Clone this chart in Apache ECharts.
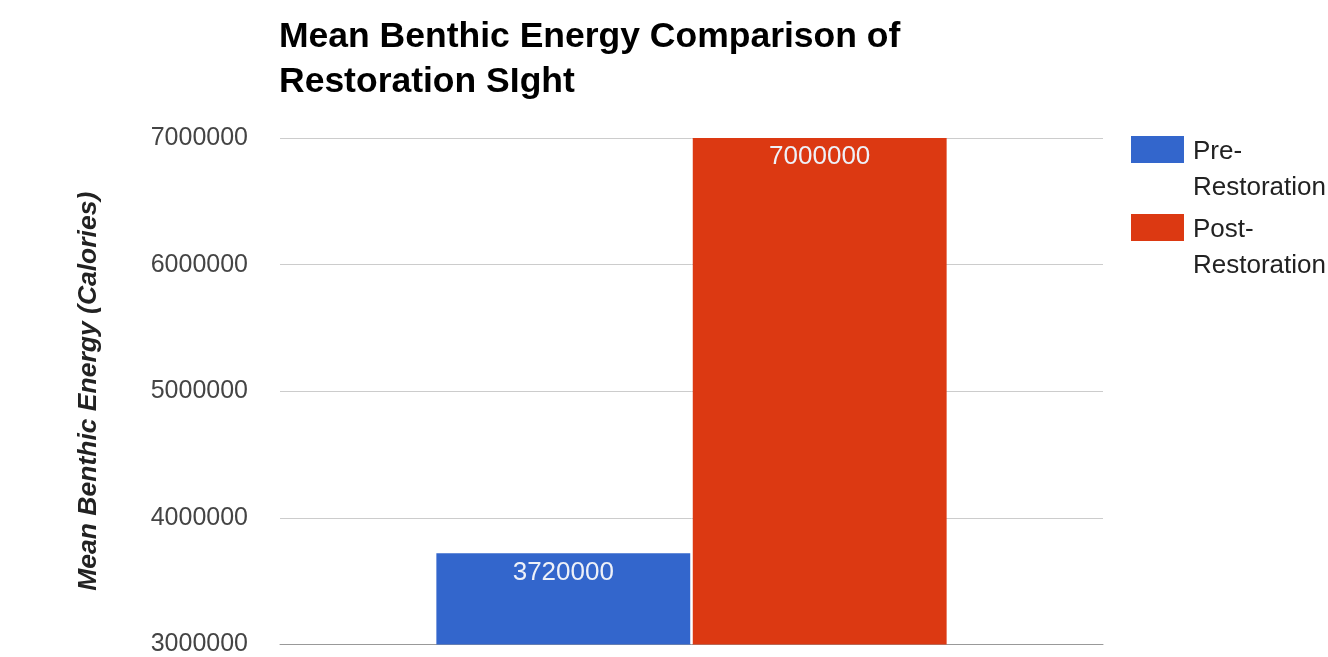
<!DOCTYPE html>
<html>
<head>
<meta charset="utf-8">
<script src="https://cdn.jsdelivr.net/npm/echarts@6/dist/echarts.min.js"></script>
<style>
  html, body { margin: 0; padding: 0; background: #fff; }
  #chart { width: 1328px; height: 657px; }
</style>
</head>
<body>
<div id="chart"></div>
<script>
// Mean benthic energy before and after restoration
const categories = [''];
const seriesNames = ['Pre-\nRestoration', 'Post-\nRestoration'];
const preRestoration = [3720000];
const postRestoration = [7000000];
const yTicks = { min: 3000000, max: 7000000, interval: 1000000 };
const colors = ['#3366cc', '#dc3912'];

const FONT = 'Liberation Sans, Arial, sans-serif';
const chart = echarts.init(document.getElementById('chart'), null, { renderer: 'canvas' });

const valueLabel = {
  show: true,
  position: 'insideTop',
  distance: 6,
  color: '#eef1f8',
  fontFamily: FONT,
  fontSize: 26,
  lineHeight: 26
};

// Legend swatch: a 53x27 block in the top-left of a larger item box
// (a tiny point marks the box corner), so it lines up with the first
// line of the two-line label and leaves a little room before the text.
const swatchIcon = 'path://M0,0L53,0L53,27L0,27Z M57,67L57.01,67L57,67.01Z';

chart.setOption({
  animation: false,
  backgroundColor: '#ffffff',
  title: {
    text: 'Mean Benthic Energy Comparison of\nRestoration SIght',
    left: 279,
    top: 15,
    padding: 0,
    textStyle: {
      fontFamily: FONT,
      fontWeight: 'bold',
      fontSize: 35.5,
      lineHeight: 45,
      color: '#000'
    }
  },
  legend: {
    orient: 'vertical',
    left: 1131,
    top: 133.5,
    padding: 0,
    itemWidth: 57,
    itemHeight: 67,
    itemGap: 6,
    icon: swatchIcon,
    textStyle: {
      fontFamily: FONT,
      fontSize: 26,
      lineHeight: 36,
      color: '#222'
    },
    data: seriesNames
  },
  grid: {
    left: 280,
    right: 225,
    top: 138,
    bottom: 10,
    containLabel: false
  },
  xAxis: {
    type: 'category',
    data: categories,
    axisLine: { show: true, lineStyle: { color: '#999', width: 1 } },
    axisTick: { show: false },
    axisLabel: { show: false }
  },
  yAxis: {
    type: 'value',
    min: yTicks.min,
    max: yTicks.max,
    interval: yTicks.interval,
    name: 'Mean Benthic Energy (Calories)',
    nameLocation: 'middle',
    nameGap: 178,
    nameTextStyle: {
      fontFamily: FONT,
      fontStyle: 'italic',
      fontWeight: 'bold',
      fontSize: 26.5,
      color: '#222'
    },
    axisLine: { show: false },
    axisTick: { show: false },
    axisLabel: {
      margin: 32,
      fontFamily: FONT,
      fontSize: 25,
      color: '#444',
      formatter: (v) => String(v)
    },
    splitLine: { lineStyle: { color: '#cccccc', width: 1 } }
  },
  series: [
    {
      name: seriesNames[0],
      type: 'bar',
      data: preRestoration,
      itemStyle: { color: colors[0] },
      barGap: '1%',
      barCategoryGap: '38%',
      label: valueLabel
    },
    {
      name: seriesNames[1],
      type: 'bar',
      data: postRestoration,
      itemStyle: { color: colors[1] },
      barGap: '1%',
      barCategoryGap: '38%',
      label: valueLabel
    }
  ]
});
</script>
</body>
</html>
